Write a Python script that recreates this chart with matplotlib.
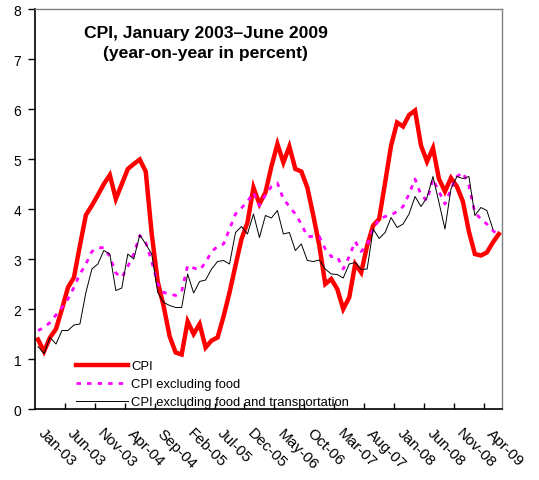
import numpy as np
import matplotlib
matplotlib.use("Agg")
import matplotlib.pyplot as plt
from matplotlib.transforms import ScaledTranslation

plt.rcParams.update({
    "font.family": ["Liberation Sans", "DejaVu Sans"],
    "font.size": 9.5,
})

# monthly data, Jan-03 .. Jun-09 (year-on-year, percent)
cpi = [1.39, 1.15, 1.43, 1.60, 2.00, 2.43, 2.63, 3.27, 3.88, 4.07, 4.28, 4.50,
       4.68, 4.20, 4.50, 4.80, 4.90, 4.99, 4.75, 3.50, 2.55, 2.05, 1.45, 1.13,
       1.09, 1.75, 1.50, 1.70, 1.23, 1.37, 1.43, 1.85, 2.33, 2.87, 3.40, 3.73,
       4.43, 4.10, 4.33, 4.85, 5.30, 4.93, 5.25, 4.80, 4.75, 4.43, 3.87, 3.27,
       2.50, 2.60, 2.40, 2.00, 2.23, 2.90, 2.73, 3.27, 3.67, 3.80, 4.53, 5.27,
       5.73, 5.65, 5.88, 5.97, 5.27, 4.95, 5.22, 4.60, 4.35, 4.62, 4.45, 4.15,
       3.55, 3.10, 3.07, 3.13, 3.33, 3.50]
cpi_ex_food = [1.57, 1.63, 1.73, 1.88, 2.03, 2.20, 2.43, 2.70, 2.90, 3.15, 3.22, 3.23,
               3.05, 2.72, 2.63, 2.85, 3.10, 3.47, 3.33, 2.95, 2.50, 2.33, 2.30, 2.27,
               2.35, 2.87, 2.82, 2.78, 2.93, 3.15, 3.25, 3.30, 3.60, 3.90, 4.02, 4.15,
               4.33, 4.07, 4.28, 4.45, 4.52, 4.20, 4.05, 3.90, 3.70, 3.45, 3.45, 3.45,
               3.20, 3.05, 3.05, 2.80, 3.05, 3.35, 3.15, 3.28, 3.60, 3.80, 3.85, 3.88,
               3.95, 4.05, 4.30, 4.60, 4.28, 4.17, 4.60, 4.35, 4.10, 4.40, 4.65, 4.73,
               4.47, 3.93, 3.80, 3.70, 3.57, 3.47]
cpi_ex_food_transp = [1.25, 1.11, 1.43, 1.30, 1.57, 1.57, 1.68, 1.70, 2.33, 2.80, 2.90, 3.17,
                      3.10, 2.37, 2.42, 3.10, 3.00, 3.48, 3.30, 3.10, 2.33, 2.13, 2.07, 2.03,
                      2.03, 2.70, 2.32, 2.55, 2.58, 2.80, 2.95, 2.97, 2.90, 3.53, 3.65, 3.50,
                      3.90, 3.43, 3.87, 3.82, 3.97, 3.50, 3.53, 3.17, 3.30, 2.97, 2.95, 2.98,
                      2.80, 2.70, 2.69, 2.62, 2.90, 2.93, 2.79, 2.80, 3.60, 3.41, 3.53, 3.83,
                      3.63, 3.70, 3.90, 4.25, 4.05, 4.23, 4.65, 4.13, 3.60, 4.40, 4.65, 4.61,
                      4.65, 3.87, 4.03, 3.97, 3.60, np.nan]
tick_labels = ["Jan-03", "Jun-03", "Nov-03", "Apr-04", "Sep-04", "Feb-05", "Jul-05",
               "Dec-05", "May-06", "Oct-06", "Mar-07", "Aug-07", "Jan-08", "Jun-08",
               "Nov-08", "Apr-09"]

x = np.arange(len(cpi))

fig = plt.figure(figsize=(5.39, 4.81), dpi=100)
ax = fig.add_axes([0.065, 0.1476, 0.866, 0.8316])

ax.plot(x, cpi, color="#FF0000", lw=3.2, label="CPI", solid_joinstyle="miter")
ax.plot(x, cpi_ex_food, color="#FF00FF", lw=2.0, ls=(0, (1.6, 2.2)),
        label="CPI excluding food")
ax.plot(x, cpi_ex_food_transp, color="black", lw=0.7,
        label="CPI excluding food and transportation")

ax.set_xlim(-0.5, len(cpi) - 0.5)
ax.set_ylim(0, 8)
ax.set_yticks(range(0, 9))
ax.tick_params(axis="y", direction="out", length=5, width=1, pad=5, labelsize=10)

# category axis: tick marks between months, labels on every 5th month
ax.set_xticks(np.arange(5, len(cpi), 5) - 0.5)
ax.set_xticklabels([])
ax.tick_params(axis="x", which="major", direction="in", length=4, width=1)
ax.set_xticks(np.arange(0, len(cpi), 5), minor=True)
ax.set_xticklabels(tick_labels, minor=True, rotation=-45, ha="left", va="top",
                   rotation_mode="anchor", fontsize=11)
ax.tick_params(axis="x", which="minor", length=0, pad=12)
shift = ScaledTranslation(7 / 100, 0, fig.dpi_scale_trans)
for lab in ax.get_xticklabels(minor=True):
    lab.set_transform(lab.get_transform() + shift)

for s in ["left", "bottom"]:
    ax.spines[s].set_color("black")
    ax.spines[s].set_linewidth(1.2)
for s in ["top", "right"]:
    ax.spines[s].set_color("#808080")
    ax.spines[s].set_linewidth(1.0)

ax.text(0.366, 0.916, "CPI, January 2003\u2013June 2009\n(year-on-year in percent)",
        transform=ax.transAxes, ha="center", va="center", fontsize=12.6,
        fontweight="bold", linespacing=1.45)

ax.legend(loc="lower left", bbox_to_anchor=(0.088, 0.002), frameon=False,
          borderpad=0, borderaxespad=0, handlelength=4.0, handletextpad=0.2,
          labelspacing=0.45, fontsize=9.4)

fig.savefig("out.png", dpi=100)
